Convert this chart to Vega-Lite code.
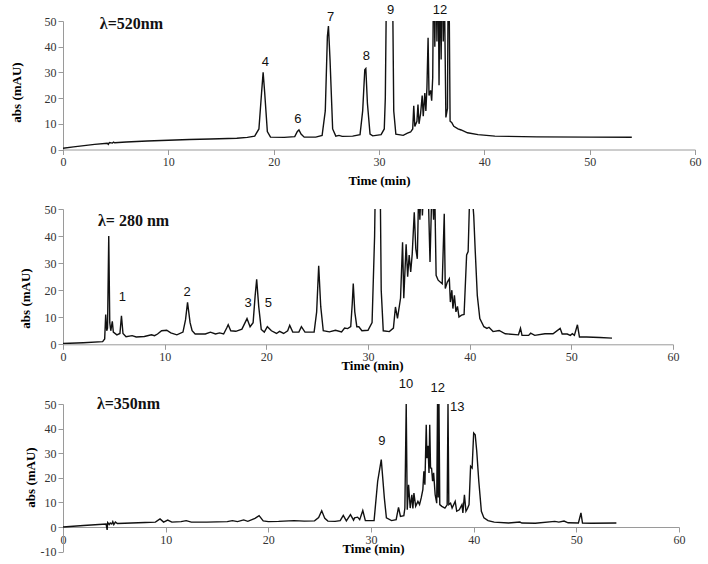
{
  "$schema": "https://vega.github.io/schema/vega-lite/v6.json",
  "background": "white",
  "padding": {"left": 10, "top": 3, "right": 5, "bottom": 5},
  "bounds": "flush",
  "spacing": 59,
  "config": {
    "view": {"stroke": null},
    "axis": {
      "grid": false,
      "labelFont": "Liberation Serif",
      "labelFontSize": 12,
      "labelColor": "#333333",
      "labelFlush": false,
      "labelOverlap": false,
      "titleFont": "Liberation Serif",
      "titleFontWeight": "bold",
      "titleFontSize": 13,
      "titleColor": "#000000",
      "domainColor": "#9a9a9a",
      "tickColor": "#9a9a9a",
      "tickSize": 5,
      "labelPadding": 2
    }
  },
  "datasets": {
    "p520": [
      {"t":0,"v":0.5},{"t":1,"v":1.0},{"t":2,"v":1.5},{"t":3,"v":2.0},{"t":4.2,"v":2.4},{"t":4.3,"v":2.0},{"t":4.4,"v":2.7},{"t":4.7,"v":2.5},{"t":4.8,"v":2.9},{"t":4.9,"v":2.6},
      {"t":6,"v":2.9},{"t":8,"v":3.3},{"t":10,"v":3.6},{"t":12,"v":3.9},{"t":14,"v":4.1},{"t":16.5,"v":4.4},{"t":17.5,"v":4.7},{"t":18.2,"v":5.2},{"t":18.6,"v":8},{"t":18.85,"v":22},
      {"t":19.0,"v":30},{"t":19.15,"v":22},{"t":19.4,"v":7},{"t":19.7,"v":4.8},{"t":21,"v":4.7},{"t":22.0,"v":5},{"t":22.25,"v":7},{"t":22.4,"v":7.6},{"t":22.6,"v":6},{"t":22.9,"v":4.8},
      {"t":24,"v":4.8},{"t":24.6,"v":5.5},{"t":24.9,"v":15},{"t":25.1,"v":44},{"t":25.2,"v":48},{"t":25.35,"v":35},{"t":25.6,"v":8},{"t":25.9,"v":5.2},{"t":26.2,"v":5.5},{"t":26.5,"v":5.1},
      {"t":27.5,"v":5.2},{"t":28.2,"v":5.8},{"t":28.45,"v":15},{"t":28.65,"v":31},{"t":28.75,"v":31.5},{"t":28.9,"v":18},{"t":29.15,"v":6},{"t":29.4,"v":5.3},{"t":30.2,"v":5.8},{"t":30.5,"v":8},
      {"t":30.6,"v":20},{"t":30.75,"v":80},{"t":31.25,"v":80},{"t":31.4,"v":15},{"t":31.6,"v":6},{"t":32.3,"v":5.5},{"t":32.7,"v":6.4},{"t":33.0,"v":6.8},{"t":33.2,"v":8},{"t":33.3,"v":17},
      {"t":33.4,"v":9},{"t":33.6,"v":11},{"t":33.7,"v":17.5},{"t":33.8,"v":10},{"t":33.95,"v":14},{"t":34.1,"v":21},{"t":34.2,"v":13},{"t":34.35,"v":22},{"t":34.45,"v":15},{"t":34.55,"v":24},
      {"t":34.66,"v":43.5},{"t":34.75,"v":21},{"t":34.9,"v":23},{"t":35.0,"v":19},{"t":35.1,"v":28},{"t":35.2,"v":80},{"t":35.3,"v":40},{"t":35.4,"v":75},{"t":35.5,"v":42},{"t":35.6,"v":80},
      {"t":35.7,"v":25},{"t":35.8,"v":70},{"t":35.9,"v":35},{"t":36.0,"v":80},{"t":36.1,"v":42},{"t":36.2,"v":65},{"t":36.35,"v":12.5},{"t":36.5,"v":16},{"t":36.6,"v":90},{"t":36.75,"v":11},
      {"t":36.9,"v":10.5},{"t":37.1,"v":9},{"t":37.5,"v":8},{"t":37.8,"v":7.6},{"t":38.4,"v":6.5},{"t":39.4,"v":5.8},{"t":41,"v":5.2},{"t":45,"v":4.9},{"t":50,"v":4.8},{"t":54,"v":4.75}
    ],
    "p280": [
      {"t":0,"v":0.3},{"t":2,"v":0.6},{"t":3.9,"v":1.0},{"t":4.1,"v":2},{"t":4.2,"v":11},{"t":4.3,"v":5},{"t":4.38,"v":6},{"t":4.5,"v":40},{"t":4.6,"v":8},{"t":4.7,"v":5},
      {"t":4.85,"v":8.5},{"t":4.95,"v":4.5},{"t":5.3,"v":3.5},{"t":5.6,"v":4},{"t":5.75,"v":10.5},{"t":5.9,"v":4},{"t":6.2,"v":2.8},{"t":6.8,"v":3.2},{"t":7.2,"v":2.7},{"t":8,"v":2.9},
      {"t":8.7,"v":3.5},{"t":9.0,"v":3.2},{"t":9.3,"v":3.8},{"t":9.7,"v":5.0},{"t":10.2,"v":5.2},{"t":10.6,"v":4.2},{"t":11.2,"v":3.5},{"t":11.8,"v":4.5},{"t":12.05,"v":9},{"t":12.25,"v":15.5},
      {"t":12.5,"v":8},{"t":12.7,"v":5},{"t":13.0,"v":3.8},{"t":14,"v":3.8},{"t":14.5,"v":4.5},{"t":15,"v":3.8},{"t":15.4,"v":4.2},{"t":15.8,"v":3.8},{"t":16.1,"v":6},{"t":16.25,"v":7.2},
      {"t":16.5,"v":5},{"t":17.0,"v":4.8},{"t":17.6,"v":5.6},{"t":18.1,"v":9.5},{"t":18.4,"v":6.5},{"t":18.7,"v":8},{"t":18.9,"v":18},{"t":19.05,"v":24},{"t":19.25,"v":14},{"t":19.5,"v":5.5},
      {"t":19.8,"v":4.5},{"t":20.1,"v":6.5},{"t":20.5,"v":5},{"t":21,"v":4},{"t":21.3,"v":4.8},{"t":21.7,"v":4},{"t":22.1,"v":5},{"t":22.3,"v":7},{"t":22.6,"v":4.5},{"t":23.2,"v":4.5},
      {"t":23.45,"v":6.5},{"t":23.8,"v":4.5},{"t":24.7,"v":4.5},{"t":24.95,"v":12},{"t":25.15,"v":29},{"t":25.35,"v":14},{"t":25.6,"v":5},{"t":26.2,"v":4.6},{"t":26.8,"v":5.2},{"t":27.4,"v":4.6},
      {"t":27.7,"v":6},{"t":28.0,"v":5.8},{"t":28.3,"v":6.5},{"t":28.45,"v":15},{"t":28.55,"v":22.5},{"t":28.7,"v":12},{"t":28.9,"v":6.5},{"t":29.1,"v":6.5},{"t":29.4,"v":5},{"t":30.0,"v":5.2},
      {"t":30.4,"v":8},{"t":30.65,"v":40},{"t":30.8,"v":80},{"t":31.15,"v":80},{"t":31.3,"v":20},{"t":31.5,"v":5},{"t":32.1,"v":4.7},{"t":32.5,"v":6},{"t":32.7,"v":13.8},{"t":32.9,"v":9.6},
      {"t":33.2,"v":17},{"t":33.4,"v":37.7},{"t":33.52,"v":17},{"t":33.75,"v":37},{"t":33.9,"v":25},{"t":34.05,"v":33},{"t":34.2,"v":26.7},{"t":34.35,"v":33.4},{"t":34.55,"v":48.8},{"t":34.7,"v":35.3},
      {"t":34.85,"v":31.6},{"t":35.0,"v":60},{"t":35.1,"v":46},{"t":35.25,"v":60},{"t":35.35,"v":47.6},{"t":35.5,"v":60},{"t":35.7,"v":55},{"t":35.9,"v":60},{"t":36.1,"v":30.4},{"t":36.3,"v":60},
      {"t":36.45,"v":46},{"t":36.55,"v":60},{"t":36.7,"v":25.5},{"t":36.9,"v":23.7},{"t":37.3,"v":22.4},{"t":37.5,"v":48.2},{"t":37.6,"v":20.6},{"t":37.8,"v":23},{"t":38.0,"v":24.2},{"t":38.1,"v":15.6},
      {"t":38.25,"v":20},{"t":38.35,"v":13.2},{"t":38.5,"v":18.1},{"t":38.65,"v":12},{"t":38.8,"v":14},{"t":38.95,"v":10.1},{"t":39.2,"v":10.8},{"t":39.45,"v":11},{"t":39.7,"v":33},{"t":39.85,"v":34.3},
      {"t":40.0,"v":55},{"t":40.25,"v":55},{"t":40.4,"v":47.6},{"t":40.55,"v":34.3},{"t":40.75,"v":18.1},{"t":41.0,"v":9.5},{"t":41.4,"v":6.5},{"t":41.7,"v":5.9},{"t":41.9,"v":6.3},{"t":42.3,"v":4.7},
      {"t":42.9,"v":5.1},{"t":43.5,"v":3.9},{"t":44.8,"v":3.5},{"t":45.0,"v":5.9},{"t":45.15,"v":3.3},{"t":45.8,"v":3.3},{"t":46.0,"v":4.1},{"t":46.4,"v":3.3},{"t":47.4,"v":3.9},{"t":48.2,"v":3.9},
      {"t":48.9,"v":5.9},{"t":49.1,"v":3.8},{"t":49.6,"v":3.8},{"t":49.9,"v":3.3},{"t":50.1,"v":3.9},{"t":50.3,"v":3.3},{"t":50.6,"v":7.2},{"t":50.8,"v":2.7},{"t":51.5,"v":2.7},{"t":52.8,"v":2.5},
      {"t":54,"v":2.3}
    ],
    "p350": [
      {"t":0,"v":0},{"t":2,"v":0.6},{"t":4.2,"v":1.2},{"t":4.3,"v":-1.2},{"t":4.35,"v":1.8},{"t":4.5,"v":1.0},{"t":4.6,"v":1.6},{"t":4.75,"v":1.2},{"t":4.85,"v":2.2},{"t":4.95,"v":1.0},
      {"t":5.1,"v":2.0},{"t":5.3,"v":1.4},{"t":6,"v":1.5},{"t":8,"v":1.8},{"t":9.0,"v":2.0},{"t":9.45,"v":3.3},{"t":9.8,"v":2.0},{"t":10.2,"v":2.8},{"t":10.6,"v":2.0},{"t":11.5,"v":2.2},
      {"t":12.0,"v":2.6},{"t":12.5,"v":2.0},{"t":14,"v":2.0},{"t":16,"v":2.2},{"t":16.5,"v":2.6},{"t":17.0,"v":2.2},{"t":17.6,"v":2.9},{"t":18.0,"v":2.3},{"t":18.7,"v":3.5},{"t":19.1,"v":4.6},
      {"t":19.5,"v":2.5},{"t":20,"v":2.2},{"t":21,"v":2.3},{"t":22.5,"v":2.6},{"t":23.5,"v":2.4},{"t":24.5,"v":2.5},{"t":24.9,"v":3.8},{"t":25.2,"v":6.6},{"t":25.5,"v":3.5},{"t":25.8,"v":2.4},
      {"t":26.5,"v":2.3},{"t":27.0,"v":2.6},{"t":27.3,"v":4.7},{"t":27.6,"v":2.5},{"t":28.0,"v":5.0},{"t":28.3,"v":2.8},{"t":28.4,"v":3.7},{"t":28.7,"v":4.0},{"t":28.9,"v":3.0},{"t":29.2,"v":6.7},
      {"t":29.45,"v":2.6},{"t":30.3,"v":2.6},{"t":30.65,"v":18.6},{"t":31.0,"v":27.4},{"t":31.3,"v":11.8},{"t":31.5,"v":3.7},{"t":32.0,"v":2.6},{"t":32.45,"v":3.0},{"t":32.68,"v":8.0},{"t":32.87,"v":4.3},
      {"t":33.2,"v":4.6},{"t":33.3,"v":7.7},{"t":33.43,"v":50},{"t":33.53,"v":7.0},{"t":33.66,"v":17.2},{"t":33.82,"v":7.7},{"t":33.98,"v":13.1},{"t":34.08,"v":7.5},{"t":34.18,"v":13.8},{"t":34.35,"v":8.4},
      {"t":34.57,"v":10.4},{"t":34.73,"v":9.1},{"t":34.89,"v":11.8},{"t":35.05,"v":15.2},{"t":35.15,"v":22.6},{"t":35.25,"v":17.2},{"t":35.38,"v":41.6},{"t":35.45,"v":28},{"t":35.55,"v":33},{"t":35.65,"v":22},
      {"t":35.72,"v":41.6},{"t":35.8,"v":24},{"t":35.9,"v":23.9},{"t":36.0,"v":18.6},{"t":36.1,"v":22},{"t":36.25,"v":13.1},{"t":36.4,"v":9.7},{"t":36.48,"v":50},{"t":36.55,"v":12},{"t":36.62,"v":50},
      {"t":36.7,"v":9.1},{"t":36.9,"v":8.4},{"t":37.2,"v":7.7},{"t":37.42,"v":9},{"t":37.5,"v":50},{"t":37.58,"v":9.1},{"t":37.75,"v":9.7},{"t":37.9,"v":7.7},{"t":38.2,"v":10.4},{"t":38.35,"v":6.4},
      {"t":38.6,"v":7.0},{"t":38.86,"v":9.1},{"t":38.95,"v":5.7},{"t":39.1,"v":13.1},{"t":39.25,"v":6.4},{"t":39.4,"v":7.5},{"t":39.55,"v":9.1},{"t":39.7,"v":24.7},{"t":39.85,"v":24},{"t":40.0,"v":38.2},
      {"t":40.15,"v":37.5},{"t":40.3,"v":30.8},{"t":40.5,"v":18.6},{"t":40.75,"v":6.4},{"t":41.0,"v":3.7},{"t":41.4,"v":2.6},{"t":42.0,"v":2.0},{"t":43.4,"v":1.6},{"t":44.5,"v":2.0},{"t":44.7,"v":1.6},
      {"t":46.0,"v":1.5},{"t":47.9,"v":2.3},{"t":48.3,"v":2.0},{"t":48.8,"v":2.4},{"t":49.2,"v":1.7},{"t":50.2,"v":1.6},{"t":50.45,"v":5.7},{"t":50.6,"v":1.6},{"t":51.5,"v":1.5},{"t":53.9,"v":1.6}
    ],
    "l520": [
      {"t":19.2,"v":34,"label":"4"},{"t":22.3,"v":11.9,"label":"6"},{"t":25.4,"v":51.6,"label":"7"},{"t":28.8,"v":36.4,"label":"8"},{"t":31.1,"v":54.3,"label":"9"},{"t":35.8,"v":54.3,"label":"12"}
    ],
    "l280": [
      {"t":5.83,"v":17.5,"label":"1"},{"t":12.2,"v":19.4,"label":"2"},{"t":18.2,"v":15.1,"label":"3"},{"t":20.2,"v":15.1,"label":"5"}
    ],
    "l350": [
      {"t":31.05,"v":34.8,"label":"9"},{"t":33.4,"v":58.1,"label":"10"},{"t":36.5,"v":56.5,"label":"12"},{"t":38.4,"v":48.7,"label":"13"}
    ]
  },
  "vconcat": [
    {
      "width": 632,
      "height": 128.5,
      "encoding": {
        "x": {"field": "t", "type": "quantitative", "scale": {"domain": [0, 60], "nice": false},
              "axis": {"values": [0,10,20,30,40,50,60], "labelOverlap": false, "labelExpr": "'' + datum.value", "title": "Time (min)", "titleY": 30.5, "titleBaseline": "middle"}},
        "y": {"field": "v", "type": "quantitative", "scale": {"domain": [0, 50], "nice": false},
              "axis": {"values": [0,10,20,30,40,50], "labelOverlap": false, "labelExpr": "'' + datum.value", "title": "abs (mAU)", "titleX": -47, "titleY": 71, "titleBaseline": "middle"}}
      },
      "layer": [
        {
          "data": {"name": "p520"},
          "mark": {"type": "line", "clip": true, "color": "#111111", "strokeWidth": 1.4}
        },
        {
          "data": {"name": "l520"},
          "mark": {"type": "text", "font": "Liberation Sans", "fontSize": 13, "color": "#111111"},
          "encoding": {"text": {"field": "label"}}
        },
        {
          "data": {"values": [{"t": 3.5, "v": 49, "label": "λ=520nm"}]},
          "mark": {"type": "text", "align": "left", "font": "Liberation Serif", "fontWeight": "bold", "fontSize": 16, "color": "#111111"},
          "encoding": {"text": {"field": "label"}}
        }
      ]
    },
    {
      "width": 610,
      "height": 135.3,
      "encoding": {
        "x": {"field": "t", "type": "quantitative", "scale": {"domain": [0, 60], "nice": false},
              "axis": {"values": [0,10,20,30,40,50,60], "labelOverlap": false, "labelExpr": "'' + datum.value", "title": "Time (min)", "titleX": 309, "titleY": 21, "titleBaseline": "middle"}},
        "y": {"field": "v", "type": "quantitative", "scale": {"domain": [0, 50], "nice": false},
              "axis": {"values": [0,10,20,30,40,50], "labelOverlap": false, "labelExpr": "'' + datum.value", "title": "abs (mAU)", "titleX": -38, "titleY": 89, "titleBaseline": "middle"}}
      },
      "layer": [
        {
          "data": {"name": "p280"},
          "mark": {"type": "line", "clip": true, "color": "#111111", "strokeWidth": 1.4}
        },
        {
          "data": {"name": "l280"},
          "mark": {"type": "text", "font": "Liberation Sans", "fontSize": 13, "color": "#111111"},
          "encoding": {"text": {"field": "label"}}
        },
        {
          "data": {"values": [{"t": 3.44, "v": 45.6, "label": "λ= 280 nm"}]},
          "mark": {"type": "text", "align": "left", "font": "Liberation Serif", "fontWeight": "bold", "fontSize": 16, "color": "#111111"},
          "encoding": {"text": {"field": "label"}}
        }
      ]
    },
    {
      "width": 616,
      "height": 147.6,
      "encoding": {
        "x": {"field": "t", "type": "quantitative", "scale": {"domain": [0, 60], "nice": false},
              "axis": {"values": [0,10,20,30,40,50,60], "labelOverlap": false, "labelExpr": "'' + datum.value", "offset": -24.6, "title": "Time (min)", "titleX": 310, "titleY": 21, "titleBaseline": "middle"}},
        "y": {"field": "v", "type": "quantitative", "scale": {"domain": [-10, 50], "nice": false},
              "axis": {"values": [-10,0,10,20,30,40,50], "labelOverlap": false, "labelExpr": "'' + datum.value", "title": "abs (mAU)", "titleX": -33, "titleY": 73, "titleBaseline": "middle"}}
      },
      "layer": [
        {
          "data": {"name": "p350"},
          "mark": {"type": "line", "clip": true, "color": "#111111", "strokeWidth": 1.4}
        },
        {
          "data": {"name": "l350"},
          "mark": {"type": "text", "font": "Liberation Sans", "fontSize": 13, "color": "#111111"},
          "encoding": {"text": {"field": "label"}}
        },
        {
          "data": {"values": [{"t": 3.3, "v": 49.8, "label": "λ=350nm"}]},
          "mark": {"type": "text", "align": "left", "font": "Liberation Serif", "fontWeight": "bold", "fontSize": 16, "color": "#111111"},
          "encoding": {"text": {"field": "label"}}
        }
      ]
    }
  ]
}
